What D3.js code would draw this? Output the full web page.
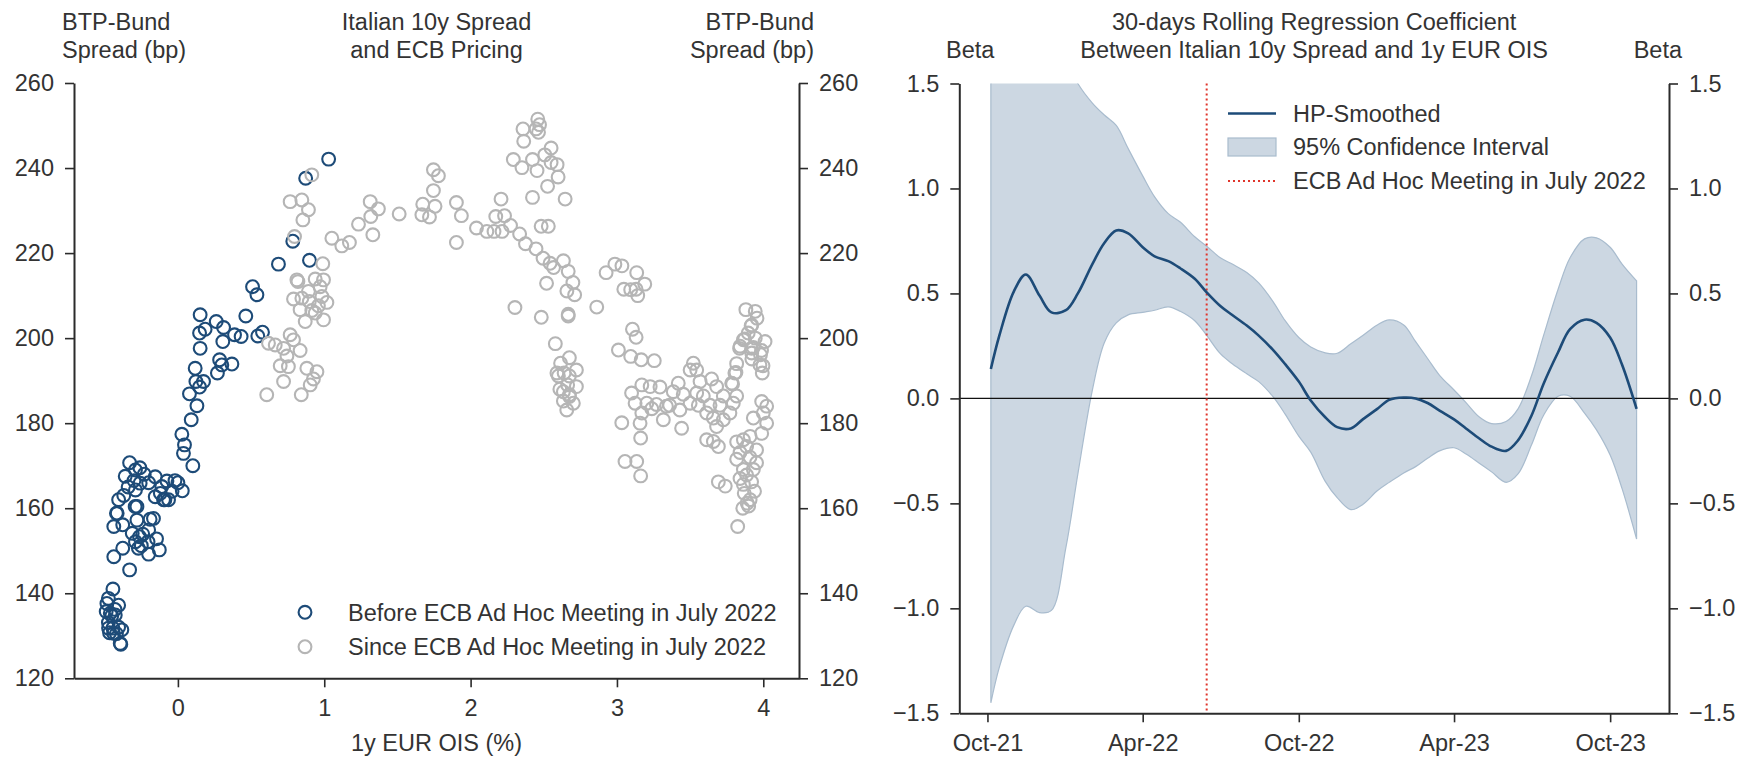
<!DOCTYPE html>
<html>
<head>
<meta charset="utf-8">
<script src="https://cdn.jsdelivr.net/npm/d3@7/dist/d3.min.js"></script>
<style>
  html, body { margin: 0; padding: 0; background: #fff; }
  svg text { font-family: "Liberation Sans", Arial, Helvetica, sans-serif; fill: #333; }
</style>
</head>
<body>
<svg id="chart" width="1750" height="759"></svg>
<script>
// ---- Left panel: BTP-Bund spread vs 1y EUR OIS ----
const beforeMeeting = [
  [1.03,242.1],[0.873,237.6],[0.785,222.8],[0.687,217.4],[0.899,218.3],[0.51,212.1],[0.54,210.2],[0.464,205.2],
  [0.578,201.4],[0.546,200.5],[0.432,200.4],[0.387,200.8],[0.152,205.5],[0.148,201.2],[0.152,197.6],[0.186,202.1],
  [0.262,203.9],[0.312,202.5],[0.307,199.2],[0.118,192.9],[0.123,189.8],[0.175,189.8],[0.148,188.5],[0.079,186.9],
  [0.13,184.1],[0.091,180.8],[0.27,191.8],[0.3,193.7],[0.369,193.9],[0.285,194.9],[0.027,177.4],[0.045,174.9],
  [0.038,172.9],[0.102,170],[0.03,164.1],[-0.33,170.7],[-0.29,169],[-0.26,169.5],[-0.155,167.4],[-0.075,166.4],
  [-0.064,162],[-0.155,162.7],[-0.29,164.3],[-0.405,162],[-0.28,160.4],[-0.258,165.9],[-0.42,158.8],[-0.167,157.6],
  [-0.11,165.1],[-0.098,162],[-0.36,167.5],[-0.34,165],[-0.37,163],[-0.3,166.5],[-0.23,168],[-0.2,166],
  [-0.12,163.5],[-0.02,166.5],[-0.04,164],[0.0,166],
  [-0.415,158.8],[-0.438,155.7],[-0.377,156.1],[-0.438,148.6],[-0.377,150.6],[-0.33,145.5],[-0.312,154.1],[-0.292,160.4],
  [-0.28,157.2],[-0.262,153.3],[-0.29,152.1],[-0.24,153.9],[-0.204,152.1],[-0.2,154.9],[-0.19,157.4],[-0.2,149.2],
  [-0.127,150.2],[-0.146,152.8],[-0.089,162],[-0.25,151.2],[-0.27,150.6],
  [-0.444,141],[-0.475,138.8],[-0.405,137.2],[-0.49,135.7],[-0.452,134.7],[-0.43,136.2],[-0.475,133.1],[-0.444,131.8],
  [-0.467,130.7],[-0.42,130.5],[-0.405,132],[-0.39,128],[-0.485,137.6],[-0.462,135.3],[-0.428,134.9],[-0.383,131.4],
  [-0.474,131.8],[-0.44,130.6],[-0.394,128.2]
];

const sinceMeeting = [
  [0.915,238.4],[0.767,232.1],[0.847,232.5],[0.892,230.2],[0.854,227.8],[0.797,223.9],[1.052,223.5],[1.12,221.7],
  [1.172,222.5],[1.234,226.8],[1.314,232.1],[1.318,228.6],[1.37,230.4],[1.332,224.3],[1.512,229.2],[1.746,239.6],
  [1.78,238.2],[1.746,234.7],[1.673,231.5],[1.757,231],[1.667,229],[1.719,228.5],
  [0.99,217.5],[0.813,213.7],[0.82,213.3],[0.938,213.9],[0.995,213.7],[0.892,211],[0.79,209.2],[0.847,209.4],
  [0.898,208.6],[0.984,209.8],[1.018,208.4],[0.96,207.6],[0.835,206.7],[0.938,205.9],[0.87,203.9],[0.995,204.3],
  [0.915,206.5],[0.972,212.1],
  [0.619,198.8],[0.665,198.4],[0.767,200.8],[0.79,199.6],[0.722,197.6],[0.745,195.8],[0.835,197.1],[0.755,193.3],
  [0.881,192.9],[0.95,192.1],[0.926,190.4],[0.904,189],[0.722,189.8],[0.843,186.7],[0.607,186.7],[0.699,193.5],
  [1.903,231.9],[1.937,228.8],[1.903,222.5],[2.04,225.9],[2.111,225.1],[2.16,225.1],[2.215,225.1],[2.172,228.6],
  [2.232,228.8],[2.208,232.7],[2.273,226.5],[2.335,224.5],[2.375,222.2],[2.447,221],[2.495,218.8],[2.543,217.6],
  [2.567,216.6],[2.634,218.2],[2.667,215.7],[2.699,213.1],[2.658,211.1],[2.711,210.2],[2.519,212.9],
  [2.447,249.2],[2.459,251.5],[2.471,250.2],[2.358,249.2],[2.464,248.4],[2.363,246.3],[2.55,244.7],[2.292,242],
  [2.351,240.1],[2.423,242],[2.454,239.4],[2.507,243.1],[2.55,241.3],[2.591,240.8],[2.598,237.9],[2.526,235.7],
  [2.423,233.1],[2.646,232.7],[2.482,226.3],[2.531,226.3],
  [2.303,207.2],[2.483,204.9],[2.667,205.6],[2.667,205.2],[2.862,207.3],[2.579,198.7],
  [2.675,195.4],[2.615,194.1],[2.723,192.5],[2.639,191.8],[2.675,191.1],[2.59,191.8],[2.663,189],[2.723,188.6],
  [2.61,188],[2.675,186.7],[2.634,187.4],[2.675,186.3],[2.702,184.7],[2.657,183.1],[2.634,185.2],[2.6,191.1],
  [2.926,215.4],[2.986,217.4],[3.034,217],[3.135,215.4],[3.19,212.7],[3.047,211.5],[3.094,211.4],[3.131,211.5],
  [3.142,210],[3.01,197.2],[3.106,202.1],[3.131,200.2],[3.094,195.7],[3.166,194.9],[3.255,194.7],
  [3.17,189],[3.227,188.6],[3.294,188.5],[3.1,187.1],[3.124,184.7],[3.204,184.7],[3.27,184.4],[3.338,184],
  [3.419,189.4],[3.385,187.4],[3.453,186.8],[3.36,184.2],[3.43,183.1],[3.317,180.8],[3.442,178.8],[3.17,182.4],
  [3.238,183.4],[3.033,180.1],[3.158,180],[3.162,176.5],[3.055,171],[3.135,171],[3.162,167.6],
  [3.522,194.1],[3.545,192.5],[3.5,192.5],[3.568,189.8],[3.647,190.4],[3.681,188.6],[3.545,187.1],[3.59,186.4],
  [3.5,184.7],[3.556,184.2],[3.636,184.2],[3.704,184.2],[3.727,186.4],[3.795,184.7],[3.818,186.4],[3.784,189.4],
  [3.806,191.8],[3.613,182.4],[3.659,181.2],[3.727,180.8],[3.772,182.4],[3.681,179.2],[3.613,176.1],[3.693,174.5],
  [3.659,175.7],
  [3.881,206.7],[3.945,206.3],[3.957,204.7],[3.917,202.9],[3.897,201.2],[3.873,199.8],[4.012,199.2],[3.945,200],
  [3.838,197.6],[3.92,197.6],[3.981,196.1],[3.922,195.1],[3.998,193.5],[3.993,191.8],[3.813,191.9],[3.79,189.2],
  [3.921,203.1],[3.864,199.6],[3.841,198.1],[3.932,197.8],[3.988,197.1],[3.921,196.5],[3.977,193.7],[3.818,194],
  [3.989,185.1],[4.023,184],[4.0,182.4],[3.932,181.2],[4.023,180],[3.989,177.6],[3.91,176.9],[3.864,176.1],
  [3.818,175.6],[3.886,174.5],[3.954,173.7],[3.841,173.1],[3.909,172],[3.818,171.5],[3.954,170.7],[3.864,169.1],
  [3.932,169.1],[3.886,167.8],[3.841,167],[3.92,166.2],[3.864,165.6],[3.693,166.2],[3.74,165.2],[3.825,155.7],
  [3.89,161.2],[3.87,163.5],[3.91,162],[3.86,160],[3.9,160.5],[3.94,164]
];

const oisTicks = [0, 1, 2, 3, 4];
const spreadTicks = [120, 140, 160, 180, 200, 220, 240, 260];

// ---- Right panel: rolling regression beta ----
const betaDates = [
  "2021-10-05","2021-10-15","2021-11-01","2021-11-15","2021-12-01","2021-12-15","2022-01-01","2022-01-15",
  "2022-02-01","2022-02-15","2022-03-01","2022-03-15","2022-04-01","2022-04-15","2022-05-01","2022-05-15",
  "2022-06-01","2022-06-15","2022-07-01","2022-07-15","2022-08-01","2022-08-15","2022-09-01","2022-09-15",
  "2022-10-01","2022-10-15","2022-11-01","2022-11-15","2022-12-01","2022-12-15","2023-01-01","2023-01-15",
  "2023-02-01","2023-02-15","2023-03-01","2023-03-15","2023-04-01","2023-04-15","2023-05-01","2023-05-15",
  "2023-06-01","2023-06-15","2023-07-01","2023-07-15","2023-08-01","2023-08-15","2023-09-01","2023-09-15",
  "2023-10-01","2023-10-15","2023-11-01"
];
const hpSmoothed = [
  0.14, 0.30, 0.51, 0.59, 0.49, 0.41, 0.42, 0.50,
  0.64, 0.74, 0.80, 0.786, 0.72, 0.677, 0.654, 0.62,
  0.57, 0.505, 0.44, 0.397, 0.347, 0.299, 0.23, 0.163,
  0.08, -0.01, -0.09, -0.137, -0.143, -0.10, -0.05, -0.007,
  0.004, 0.0, -0.022, -0.058, -0.10, -0.143, -0.192, -0.23,
  -0.25, -0.20, -0.08, 0.07, 0.22, 0.33, 0.375, 0.36,
  0.29, 0.16, -0.05
];
const ciUpper = [
  3.2, 3.0, 2.6, 2.3, 2.0, 1.8, 1.62, 1.5,
  1.407, 1.35, 1.30, 1.19, 1.06, 0.96, 0.88, 0.84,
  0.77, 0.725, 0.67, 0.64, 0.60, 0.55, 0.46, 0.37,
  0.29, 0.245, 0.217, 0.215, 0.26, 0.30, 0.35, 0.374,
  0.35, 0.27, 0.19, 0.11, 0.04, -0.02, -0.09, -0.12,
  -0.11, -0.05, 0.11, 0.30, 0.52, 0.67, 0.76, 0.765,
  0.72, 0.64, 0.56
];
const ciLower = [
  -1.45, -1.28, -1.08, -0.99, -1.02, -1.01, -0.71, -0.36,
  0.04, 0.265, 0.36, 0.398, 0.41, 0.42, 0.436, 0.415,
  0.37, 0.30, 0.213, 0.165, 0.117, 0.08, 0.007, -0.075,
  -0.18, -0.256, -0.395, -0.473, -0.53, -0.505, -0.44, -0.40,
  -0.355, -0.325, -0.285, -0.25, -0.235, -0.265, -0.31, -0.35,
  -0.40, -0.36, -0.22, -0.08, 0.01, 0.01, -0.07, -0.15,
  -0.27, -0.43, -0.67
];
const meetingDate = "2022-06-15";
const dateTicks = ["2021-10-01", "2022-04-01", "2022-10-01", "2023-04-01", "2023-10-01"];
const betaTicks = [-1.5, -1.0, -0.5, 0.0, 0.5, 1.0, 1.5];

// ---- Drawing ----
const svg = d3.select("#chart");
const FONT = 23.5;
const NAVY = "#1d4b78";
const GREY = "#b5b5b5";
const BAND = "#ccd7e2";
const BAND_EDGE = "#a9bcce";
const RED = "#e0352b";
const INK = "#2b2b2b";
const R_DOT = 6.4;

function styleAxis(g) {
  g.selectAll(".domain").attr("stroke", INK).attr("stroke-width", 2);
  g.selectAll(".tick line").attr("stroke", INK).attr("stroke-width", 1.6);
  g.selectAll(".tick text").attr("font-size", FONT).attr("fill", "#333")
    .style("font-family", '"Liberation Sans", Arial, sans-serif');
}

// Left panel geometry
const L = { x0: 74, x1: 799, y0: 83, y1: 678.3 };
const xOis = d3.scaleLinear().domain([-0.71, 4.244]).range([L.x0, L.x1]);
const ySpread = d3.scaleLinear().domain([120, 260]).range([L.y1, L.y0]);

const left = svg.append("g");

left.append("g").selectAll("circle").data(beforeMeeting).join("circle")
  .attr("cx", d => xOis(d[0])).attr("cy", d => ySpread(d[1])).attr("r", R_DOT)
  .attr("fill", "none").attr("stroke", NAVY).attr("stroke-width", 2.1);

left.append("g").selectAll("circle").data(sinceMeeting).join("circle")
  .attr("cx", d => xOis(d[0])).attr("cy", d => ySpread(d[1])).attr("r", R_DOT)
  .attr("fill", "none").attr("stroke", GREY).attr("stroke-width", 2.1);

left.append("g").attr("transform", `translate(0,${L.y1})`)
  .call(d3.axisBottom(xOis).tickValues(oisTicks).tickFormat(d3.format("d")).tickSize(9).tickSizeOuter(0).tickPadding(12))
  .call(styleAxis);
left.append("g").attr("transform", `translate(${L.x0},0)`)
  .call(d3.axisLeft(ySpread).tickValues(spreadTicks).tickSize(9).tickSizeOuter(0).tickPadding(11))
  .call(styleAxis);
left.append("g").attr("transform", `translate(${L.x1},0)`)
  .call(d3.axisRight(ySpread).tickValues(spreadTicks).tickSize(9).tickSizeOuter(0).tickPadding(11))
  .call(styleAxis);

left.append("text").attr("x", (L.x0 + L.x1) / 2).attr("y", 743).attr("dy", "0.35em")
  .attr("text-anchor", "middle").attr("font-size", FONT).text("1y EUR OIS (%)");

function twoLines(g, x, anchor, lines) {
  const t = g.append("text").attr("x", x).attr("y", 29.5).attr("text-anchor", anchor).attr("font-size", FONT);
  lines.forEach((s, i) => t.append("tspan").attr("x", x).attr("y", 29.5 + i * 28).text(s));
}
twoLines(left, 62, "start", ["BTP-Bund", "Spread (bp)"]);
twoLines(left, (L.x0 + L.x1) / 2, "middle", ["Italian 10y Spread", "and ECB Pricing"]);
twoLines(left, 814, "end", ["BTP-Bund", "Spread (bp)"]);

// Left legend
const legL = [
  { label: "Before ECB Ad Hoc Meeting in July 2022", color: NAVY, y: 612.3 },
  { label: "Since ECB Ad Hoc Meeting in July 2022", color: GREY, y: 646.7 }
];
legL.forEach(d => {
  left.append("circle").attr("cx", 305).attr("cy", d.y).attr("r", R_DOT)
    .attr("fill", "none").attr("stroke", d.color).attr("stroke-width", 2.1);
  left.append("text").attr("x", 348).attr("y", d.y).attr("dy", "0.35em")
    .attr("font-size", FONT).text(d.label);
});

// Right panel geometry
const R = { x0: 959.3, x1: 1669, y0: 83.5, y1: 713.3 };
const parse = d3.utcParse("%Y-%m-%d");
const xDate = d3.scaleUtc().domain([parse("2021-08-29"), parse("2023-12-09")]).range([R.x0, R.x1]);
const yBeta = d3.scaleLinear().domain([-1.5, 1.5]).range([R.y1, R.y0]);

const series = betaDates.map((d, i) => ({ date: parse(d), hp: hpSmoothed[i], lo: ciLower[i], hi: ciUpper[i] }));

const right = svg.append("g");
right.append("clipPath").attr("id", "plotClip").append("rect")
  .attr("x", R.x0).attr("y", R.y0).attr("width", R.x1 - R.x0).attr("height", R.y1 - R.y0);

const curve = d3.curveCatmullRom.alpha(0.5);
right.append("path").datum(series).attr("clip-path", "url(#plotClip)")
  .attr("d", d3.area().x(d => xDate(d.date)).y0(d => yBeta(d.lo)).y1(d => yBeta(d.hi)).curve(curve))
  .attr("fill", BAND).attr("stroke", BAND_EDGE).attr("stroke-width", 1.2);

right.append("line").attr("x1", R.x0).attr("x2", R.x1).attr("y1", yBeta(0)).attr("y2", yBeta(0))
  .attr("stroke", "#111").attr("stroke-width", 1.3);

right.append("line").attr("x1", xDate(parse(meetingDate))).attr("x2", xDate(parse(meetingDate)))
  .attr("y1", R.y0).attr("y2", R.y1)
  .attr("stroke", RED).attr("stroke-width", 2).attr("stroke-dasharray", "2,3");

right.append("path").datum(series).attr("clip-path", "url(#plotClip)")
  .attr("d", d3.line().x(d => xDate(d.date)).y(d => yBeta(d.hp)).curve(curve))
  .attr("fill", "none").attr("stroke", NAVY).attr("stroke-width", 2.6);

right.append("g").attr("transform", `translate(0,${R.y1})`)
  .call(d3.axisBottom(xDate).tickValues(dateTicks.map(parse)).tickFormat(d3.utcFormat("%b-%y"))
    .tickSize(9).tickSizeOuter(0).tickPadding(12))
  .call(styleAxis);
right.append("g").attr("transform", `translate(${R.x0},0)`)
  .call(d3.axisLeft(yBeta).tickValues(betaTicks).tickFormat(d3.format(".1f")).tickSize(9).tickSizeOuter(0).tickPadding(11))
  .call(styleAxis);
right.append("g").attr("transform", `translate(${R.x1},0)`)
  .call(d3.axisRight(yBeta).tickValues(betaTicks).tickFormat(d3.format(".1f")).tickSize(9).tickSizeOuter(0).tickPadding(11))
  .call(styleAxis);

twoLines(right, (R.x0 + R.x1) / 2, "middle",
  ["30-days Rolling Regression Coefficient", "Between Italian 10y Spread and 1y EUR OIS"]);
right.append("text").attr("x", 946).attr("y", 57.5).attr("font-size", FONT).text("Beta");
right.append("text").attr("x", 1682).attr("y", 57.5).attr("text-anchor", "end").attr("font-size", FONT).text("Beta");

// Right legend
const lgX = 1228, lgW = 48, lgText = 1293;
right.append("line").attr("x1", lgX).attr("x2", lgX + lgW).attr("y1", 113.5).attr("y2", 113.5)
  .attr("stroke", NAVY).attr("stroke-width", 2.6);
right.append("rect").attr("x", lgX).attr("y", 138).attr("width", lgW).attr("height", 18)
  .attr("fill", BAND).attr("stroke", BAND_EDGE).attr("stroke-width", 1.2);
right.append("line").attr("x1", lgX).attr("x2", lgX + lgW).attr("y1", 181).attr("y2", 181)
  .attr("stroke", RED).attr("stroke-width", 2).attr("stroke-dasharray", "2,3");
[["HP-Smoothed", 113.5], ["95% Confidence Interval", 147], ["ECB Ad Hoc Meeting in July 2022", 181]]
  .forEach(([s, y]) => right.append("text").attr("x", lgText).attr("y", y).attr("dy", "0.35em")
    .attr("font-size", FONT).text(s));
</script>
</body>
</html>
